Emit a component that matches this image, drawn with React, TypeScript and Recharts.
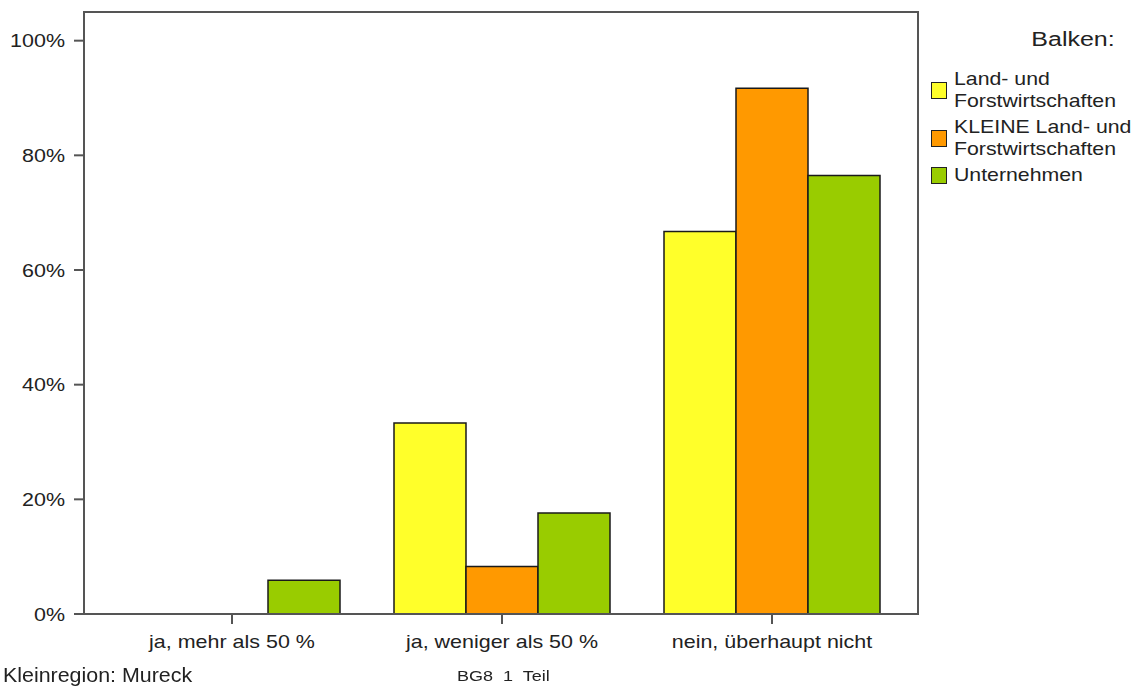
import { BarChart, Bar, XAxis, YAxis } from 'recharts';

const categories = ['ja, mehr als 50 %', 'ja, weniger als 50 %', 'nein, überhaupt nicht'];
const landForst = [0, 33.3, 66.7];
const kleineLandForst = [0, 8.3, 91.7];
const unternehmen = [5.9, 17.6, 76.5];
const yTicks = [0, 20, 40, 60, 80, 100];

const seriesInfo = [
  { key: 'land', lines: ['Land- und', 'Forstwirtschaften'], color: '#FFFF2A' },
  { key: 'kleine', lines: ['KLEINE Land- und', 'Forstwirtschaften'], color: '#FF9900' },
  { key: 'unternehmen', lines: ['Unternehmen'], color: '#99CC00' },
];

const data = categories.map((cat, i) => ({
  cat,
  land: landForst[i],
  kleine: kleineLandForst[i],
  unternehmen: unternehmen[i],
}));

const FONT = '"Liberation Sans", Arial, sans-serif';
const AXIS = '#555555';
const TEXT = '#222222';

// the source picture is a bit stretched sideways, so text gets a horizontal scale
const XTick = ({ x, y, payload }: any) => (
  <g transform={`translate(${x},${y})`}>
    <text transform="scale(1.13,1)" textAnchor="middle" dy="0.71em" fill={TEXT} fontSize={19} fontFamily={FONT}>
      {payload.value}
    </text>
  </g>
);

const YTick = ({ x, y, payload }: any) => (
  <g transform={`translate(${x},${y})`}>
    <text transform="scale(1.13,1)" textAnchor="end" dy="0.355em" fill={TEXT} fontSize={19} fontFamily={FONT}>
      {`${payload.value}%`}
    </text>
  </g>
);

function LegendBox() {
  return (
    <div style={{ position: 'absolute', left: 931, top: 27, fontFamily: FONT, color: TEXT, width: 200 }}>
      <div
        style={{
          position: 'absolute',
          right: 16,
          top: 0,
          fontSize: 20,
          lineHeight: '24px',
          whiteSpace: 'nowrap',
          transform: 'scaleX(1.25)',
          transformOrigin: 'right center',
        }}
      >
        Balken:
      </div>
      <div style={{ position: 'absolute', left: 0, top: 41 }}>
        {seriesInfo.map((s) => (
          <div key={s.key} style={{ display: 'flex', alignItems: 'center', marginBottom: 4 }}>
            <div
              style={{
                width: 14,
                height: 15,
                background: s.color,
                border: '1.5px solid #222',
                marginRight: 7,
                flexShrink: 0,
              }}
            />
            <div
              style={{
                fontSize: 19,
                lineHeight: '22px',
                whiteSpace: 'nowrap',
                transform: 'scaleX(1.12)',
                transformOrigin: 'left center',
              }}
            >
              {s.lines.map((l) => (
                <div key={l}>{l}</div>
              ))}
            </div>
          </div>
        ))}
      </div>
    </div>
  );
}

export default function App() {
  return (
    <div style={{ position: 'fixed', left: 0, top: 0, width: 1134, height: 686, background: '#fff', fontFamily: FONT }}>
      <BarChart
        width={1134}
        height={686}
        data={data}
        margin={{ top: 12, right: 215, bottom: 0, left: 0 }}
        barCategoryGap="10%"
        barGap={0}
      >
        <XAxis
          dataKey="cat"
          height={72}
          padding={{ left: 13, right: 12 }}
          axisLine={{ stroke: AXIS, strokeWidth: 2 }}
          tickLine={{ stroke: AXIS, strokeWidth: 2 }}
          tickSize={10}
          tickMargin={10}
          tick={<XTick />}
          interval={0}
        />
        <YAxis
          domain={[0, 105]}
          ticks={yTicks}
          width={84}
          axisLine={{ stroke: AXIS, strokeWidth: 2 }}
          tickLine={{ stroke: AXIS, strokeWidth: 2 }}
          tickSize={10}
          tickMargin={9}
          tick={<YTick />}
          allowDataOverflow
        />
        {seriesInfo.map((s) => (
          <Bar
            key={s.key}
            dataKey={s.key}
            fill={s.color}
            stroke="#1a1a1a"
            strokeWidth={1.5}
            isAnimationActive={false}
          />
        ))}
      </BarChart>
      {/* top and right edge of the plot frame */}
      <div
        style={{
          position: 'absolute',
          left: 83,
          top: 11,
          width: 836,
          height: 603,
          borderTop: `2px solid ${AXIS}`,
          borderRight: `2px solid ${AXIS}`,
          boxSizing: 'border-box',
          pointerEvents: 'none',
        }}
      />
      <LegendBox />
      <div
        style={{
          position: 'absolute',
          left: 3,
          top: 664,
          fontSize: 20,
          color: TEXT,
          whiteSpace: 'nowrap',
          transform: 'scaleX(1.07)',
          transformOrigin: 'left center',
        }}
      >
        Kleinregion: Mureck
      </div>
      <div
        style={{
          position: 'absolute',
          left: 457,
          top: 667,
          fontSize: 15,
          color: TEXT,
          whiteSpace: 'pre',
          transform: 'scaleX(1.2)',
          transformOrigin: 'left center',
        }}
      >
        {'BG8  1  Teil'}
      </div>
    </div>
  );
}
